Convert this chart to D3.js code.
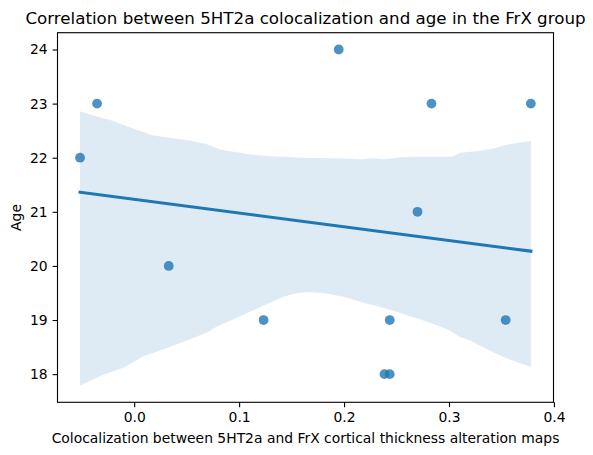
<!DOCTYPE html>
<html>
<head>
<meta charset="utf-8">
<script src="https://cdn.jsdelivr.net/npm/d3@7"></script>
<style>
  body { margin: 0; background: #fff; }
  svg { display: block; font-family: "DejaVu Sans", sans-serif; }
</style>
</head>
<body>
<svg id="chart" width="593" height="455"></svg>
<script>
// ---- data ----
const pointX = [-0.0516, -0.0354, 0.0329, 0.1233, 0.1949, 0.2385, 0.2435, 0.2435, 0.270, 0.2833, 0.354, 0.378];
const pointY = [22, 23, 20, 19, 24, 18, 18, 19, 21, 23, 19, 23];

// 95% CI band (bootstrap)
const bandUpperX = [-0.0516, -0.0357, -0.0198, -0.0039, 0.0183, 0.0406, 0.0533, 0.0693, 0.0820, 0.0979, 0.1106, 0.1265, 0.1583, 0.1901, 0.2156, 0.2282, 0.2378, 0.2537, 0.2696, 0.3031, 0.3110, 0.3301, 0.3428, 0.3523, 0.3651, 0.3781];
const bandUpperY = [22.86, 22.76, 22.68, 22.56, 22.41, 22.35, 22.32, 22.25, 22.15, 22.10, 22.06, 22.03, 22.00, 21.99, 21.97, 21.99, 21.97, 22.01, 22.02, 22.02, 22.09, 22.13, 22.17, 22.23, 22.27, 22.31];
const bandLowerX = [-0.0516, -0.0294, -0.0103, 0.0088, 0.0279, 0.0502, 0.0693, 0.0788, 0.1011, 0.1201, 0.1424, 0.1552, 0.1647, 0.1805, 0.1996, 0.2219, 0.2315, 0.2537, 0.2792, 0.2983, 0.3110, 0.3203, 0.3364, 0.3523, 0.3781];
const bandLowerY = [17.79, 17.99, 18.12, 18.33, 18.46, 18.62, 18.77, 18.88, 19.07, 19.24, 19.43, 19.50, 19.52, 19.50, 19.43, 19.30, 19.26, 19.13, 18.97, 18.83, 18.68, 18.62, 18.46, 18.31, 18.13];

const xTicks = [0.0, 0.1, 0.2, 0.3, 0.4];
const yTicks = [18, 19, 20, 21, 22, 23, 24];

const titleText = "Correlation between 5HT2a colocalization and age in the FrX group";
const xLabelText = "Colocalization between 5HT2a and FrX cortical thickness alteration maps";
const yLabelText = "Age";

// ---- layout ----
const svg = d3.select("#chart");
const m = { left: 57.5, top: 32.7, width: 496, height: 369.6 };
const blue = "#1f77b4";

// domains like matplotlib autoscale with 5% margins
const allX = pointX.concat(bandUpperX, bandLowerX);
const allY = pointY.concat(bandUpperY, bandLowerY);
const [x0, x1] = d3.extent(allX);
const [y0, y1] = d3.extent(allY);
const px = (x1 - x0) * 0.05, py = (y1 - y0) * 0.05;

const x = d3.scaleLinear().domain([x0 - px, x1 + px]).range([m.left, m.left + m.width]);
const y = d3.scaleLinear().domain([y0 - py, y1 + py]).range([m.top + m.height, m.top]);

// regression line (OLS)
const mx = d3.mean(pointX), my = d3.mean(pointY);
let sxy = 0, sxx = 0;
pointX.forEach((v, i) => { sxy += (v - mx) * (pointY[i] - my); sxx += (v - mx) * (v - mx); });
const slope = sxy / sxx, intercept = my - slope * mx;
const lineXs = d3.extent(pointX);

// band polygon
const bandPts = bandUpperX.map((v, i) => [x(v), y(bandUpperY[i])])
  .concat(bandLowerX.map((v, i) => [x(v), y(bandLowerY[i])]).reverse());

const plot = svg.append("g");

plot.append("path")
  .attr("d", "M" + bandPts.map(p => p.join(",")).join("L") + "Z")
  .attr("fill", blue).attr("fill-opacity", 0.15).attr("stroke", "none");

plot.selectAll("circle.pt").data(pointX.map((v, i) => [v, pointY[i]]))
  .enter().append("circle")
  .attr("cx", d => x(d[0])).attr("cy", d => y(d[1])).attr("r", 4.9)
  .attr("fill", blue).attr("fill-opacity", 0.8).attr("stroke", "none");

plot.append("line")
  .attr("x1", x(lineXs[0])).attr("y1", y(intercept + slope * lineXs[0]))
  .attr("x2", x(lineXs[1])).attr("y2", y(intercept + slope * lineXs[1]))
  .attr("stroke", blue).attr("stroke-width", 3.1).attr("stroke-linecap", "square");

// axes
const xAxis = d3.axisBottom(x).tickValues(xTicks).tickFormat(d3.format(".1f")).tickSizeInner(4.9).tickSizeOuter(0).tickPadding(4.9);
const yAxis = d3.axisLeft(y).tickValues(yTicks).tickFormat(d3.format("d")).tickSizeInner(4.9).tickSizeOuter(0).tickPadding(4.9);

const gx = svg.append("g").attr("transform", `translate(0,${m.top + m.height})`).call(xAxis);
const gy = svg.append("g").attr("transform", `translate(${m.left},0)`).call(yAxis);
[gx, gy].forEach(g => {
  g.select(".domain").remove();
  g.selectAll(".tick line").attr("stroke", "#000").attr("stroke-width", 1.1);
  g.selectAll(".tick text").attr("fill", "#000").attr("font-size", 13.9).attr("font-family", "DejaVu Sans, sans-serif");
});

// frame
svg.append("rect")
  .attr("x", m.left).attr("y", m.top).attr("width", m.width).attr("height", m.height)
  .attr("fill", "none").attr("stroke", "#000").attr("stroke-width", 1.1);

// labels
svg.append("text").attr("x", m.left + m.width / 2).attr("y", 24)
  .attr("text-anchor", "middle").attr("font-size", 16.7).attr("fill", "#000").text(titleText);
svg.append("text").attr("x", m.left + m.width / 2).attr("y", 443)
  .attr("text-anchor", "middle").attr("font-size", 13.9).attr("fill", "#000").text(xLabelText);
svg.append("text").attr("transform", `translate(21,${m.top + m.height / 2}) rotate(-90)`)
  .attr("text-anchor", "middle").attr("font-size", 13.9).attr("fill", "#000").text(yLabelText);
</script>
</body>
</html>
